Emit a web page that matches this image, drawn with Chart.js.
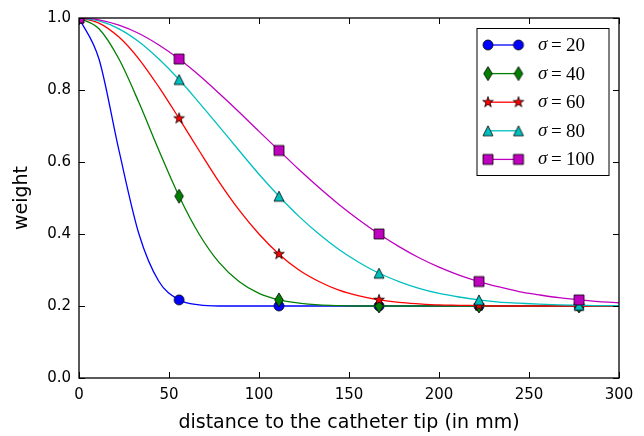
<!DOCTYPE html>
<html>
<head>
<meta charset="utf-8">
<script src="https://cdn.jsdelivr.net/npm/chart.js@4/dist/chart.umd.min.js"></script>
<style>
  html, body { margin: 0; padding: 0; background: #fff; }
  #wrap { width: 644px; height: 436px; }
</style>
</head>
<body>
<div id="wrap"><canvas id="chart" width="644" height="436"></canvas></div>
<script>
// distance along the catheter (mm), markers every 5th point
const distance = [0, 11.1, 22.2, 33.3, 44.4, 55.6, 66.7, 77.8, 88.9, 100,
  111.1, 122.2, 133.3, 144.4, 155.6, 166.7, 177.8, 188.9, 200, 211.1,
  222.2, 233.3, 244.4, 255.6, 266.7, 277.8, 288.9, 300];

const sigmas = [20, 40, 60, 80, 100];

const weight20 = [1.000, 0.886, 0.632, 0.400, 0.268, 0.217, 0.203, 0.200, 0.200, 0.200,
  0.200, 0.200, 0.200, 0.200, 0.200, 0.200, 0.200, 0.200, 0.200, 0.200,
  0.200, 0.200, 0.200, 0.200, 0.200, 0.200, 0.200, 0.200];
const weight40 = [1.000, 0.970, 0.886, 0.765, 0.632, 0.505, 0.400, 0.321, 0.268, 0.235,
  0.217, 0.208, 0.203, 0.201, 0.200, 0.200, 0.200, 0.200, 0.200, 0.200,
  0.200, 0.200, 0.200, 0.200, 0.200, 0.200, 0.200, 0.200];
const weight60 = [1.000, 0.986, 0.947, 0.886, 0.808, 0.721, 0.632, 0.545, 0.467, 0.400,
  0.344, 0.300, 0.268, 0.244, 0.228, 0.217, 0.210, 0.206, 0.203, 0.202,
  0.201, 0.200, 0.200, 0.200, 0.200, 0.200, 0.200, 0.200];
const weight80 = [1.000, 0.992, 0.970, 0.934, 0.886, 0.829, 0.765, 0.699, 0.632, 0.566,
  0.505, 0.449, 0.400, 0.357, 0.321, 0.291, 0.268, 0.249, 0.235, 0.225,
  0.217, 0.211, 0.208, 0.205, 0.203, 0.202, 0.201, 0.201];
const weight100 = [1.000, 0.995, 0.980, 0.957, 0.925, 0.886, 0.841, 0.791, 0.739, 0.685,
  0.632, 0.579, 0.529, 0.482, 0.439, 0.400, 0.365, 0.334, 0.308, 0.286,
  0.268, 0.253, 0.240, 0.231, 0.223, 0.217, 0.212, 0.209];

const xTicks = [0, 50, 100, 150, 200, 250, 300];
const yTicks = [0.0, 0.2, 0.4, 0.6, 0.8, 1.0];

const weights = [weight20, weight40, weight60, weight80, weight100];
const colors = ['#0000ff', '#008000', '#ff0000', '#00bfbf', '#bf00bf'];
const shapes = ['circle', 'thinDiamond', 'star', 'triangle', 'square'];

// matplotlib-like markers drawn into small canvases
function makeMarker(shape, fill) {
  const c = document.createElement('canvas');
  c.width = 18; c.height = 18;
  const g = c.getContext('2d');
  const m = 9;
  g.beginPath();
  if (shape === 'circle') {
    g.arc(m, m, 5, 0, Math.PI * 2);
  } else if (shape === 'thinDiamond') {
    g.moveTo(m, m - 7); g.lineTo(m + 4.3, m); g.lineTo(m, m + 7); g.lineTo(m - 4.3, m);
  } else if (shape === 'star') {
    for (let i = 0; i < 10; i++) {
      const r = i % 2 === 0 ? 5.6 : 2.2;
      const a = -Math.PI / 2 + i * Math.PI / 5;
      const px = m + r * Math.cos(a), py = m + r * Math.sin(a);
      if (i === 0) g.moveTo(px, py); else g.lineTo(px, py);
    }
  } else if (shape === 'triangle') {
    g.moveTo(m, m - 5); g.lineTo(m + 5, m + 5); g.lineTo(m - 5, m + 5);
  } else {
    g.rect(m - 5, m - 5, 10, 10);
  }
  g.closePath();
  g.fillStyle = fill;
  g.fill();
  g.lineWidth = 0.8;
  g.strokeStyle = '#000';
  g.stroke();
  return c;
}

const markers = shapes.map((s, i) => makeMarker(s, colors[i]));

const datasets = weights.map((w, i) => ({
  label: 'σ =' + sigmas[i],
  data: distance.map((d, j) => ({ x: d, y: w[j] })),
  borderColor: colors[i],
  backgroundColor: colors[i],
  borderWidth: 1.3,
  cubicInterpolationMode: 'monotone',
  pointStyle: markers[i],
  pointRadius: ctx => ctx.dataIndex % 5 === 0 ? 5 : 0,
  pointHoverRadius: 0,
  order: sigmas.length - 1 - i
}));

const framePlugin = {
  id: 'frame',
  afterDraw(chart) {
    const { ctx, chartArea: a, scales } = chart;
    ctx.save();
    ctx.strokeStyle = '#000';
    ctx.lineWidth = 1;
    // inward ticks on all four sides
    ctx.beginPath();
    xTicks.forEach(v => {
      const px = Math.round(scales.x.getPixelForValue(v)) + 0.5;
      ctx.moveTo(px, a.bottom); ctx.lineTo(px, a.bottom - 6);
      ctx.moveTo(px, a.top); ctx.lineTo(px, a.top + 6);
    });
    yTicks.forEach(v => {
      const py = Math.round(scales.y.getPixelForValue(v)) + 0.5;
      ctx.moveTo(a.left, py); ctx.lineTo(a.left + 6, py);
      ctx.moveTo(a.right, py); ctx.lineTo(a.right - 6, py);
    });
    ctx.stroke();
    ctx.lineWidth = 1.3;
    ctx.strokeRect(a.left, a.top, a.right - a.left, a.bottom - a.top);

    // legend box
    const bx = 477, by = 28.5, bw = 132, bh = 147;
    ctx.fillStyle = '#fff';
    ctx.fillRect(bx, by, bw, bh);
    ctx.lineWidth = 1;
    ctx.strokeRect(bx, by, bw, bh);
    sigmas.forEach((s, i) => {
      const y = 45 + i * 28.6;
      ctx.strokeStyle = colors[i];
      ctx.lineWidth = 1.3;
      ctx.beginPath(); ctx.moveTo(488, y); ctx.lineTo(518.5, y); ctx.stroke();
      ctx.drawImage(markers[i], 488 - 9, y - 9);
      ctx.drawImage(markers[i], 518.5 - 9, y - 9);
      ctx.fillStyle = '#000';
      ctx.textBaseline = 'middle';
      ctx.textAlign = 'left';
      ctx.font = 'italic 19px "Liberation Serif"';
      ctx.fillText('σ', 538, y);
      ctx.font = '19px "Liberation Serif"';
      ctx.fillText('=', 551, y + 1);
      ctx.fillText(String(s), 566, y + 1);
    });
    ctx.restore();
  }
};

new Chart(document.getElementById('chart'), {
  type: 'line',
  data: { datasets: datasets },
  options: {
    responsive: false,
    devicePixelRatio: 1,
    animation: false,
    events: [],
    layout: { padding: { top: 18, right: 25, left: 0, bottom: 0 } },
    plugins: { legend: { display: false }, tooltip: { enabled: false } },
    scales: {
      x: {
        type: 'linear',
        min: 0, max: 300,
        afterFit: s => { s.height = 58; },
        afterBuildTicks: s => { s.ticks = xTicks.map(v => ({ value: v })); },
        grid: { display: false, drawTicks: false },
        border: { display: false },
        ticks: { padding: 8, color: '#000', font: { family: 'DejaVu Sans', size: 15 } },
        title: {
          display: true,
          text: 'distance to the catheter tip (in mm)',
          color: '#000',
          font: { family: 'DejaVu Sans', size: 19 },
          padding: { top: 0, bottom: 2 }
        }
      },
      y: {
        type: 'linear',
        min: 0, max: 1,
        afterFit: s => { s.width = 79; },
        afterBuildTicks: s => { s.ticks = yTicks.map(v => ({ value: v })); },
        grid: { display: false, drawTicks: false },
        border: { display: false },
        ticks: {
          padding: 8, color: '#000',
          font: { family: 'DejaVu Sans', size: 15 },
          callback: v => v.toFixed(1)
        },
        title: {
          display: true,
          text: 'weight',
          color: '#000',
          font: { family: 'DejaVu Sans', size: 19 },
          padding: { top: 11, bottom: 0 }
        }
      }
    }
  },
  plugins: [framePlugin]
});
</script>
</body>
</html>
